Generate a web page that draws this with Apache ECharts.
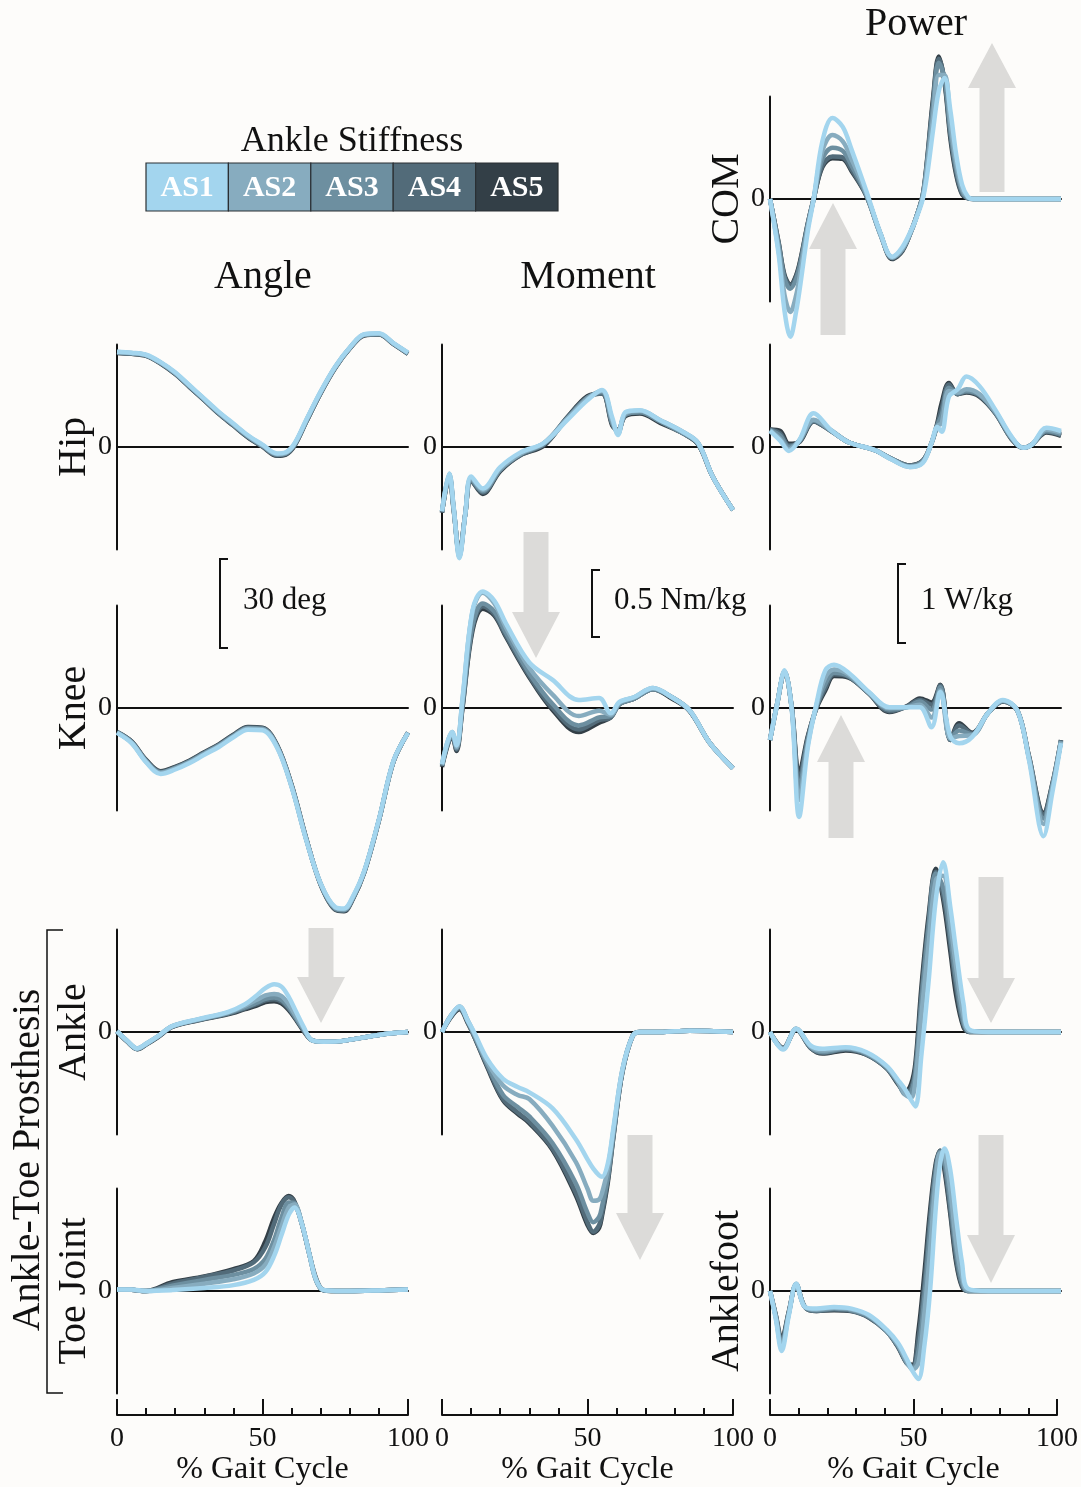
<!DOCTYPE html>
<html><head><meta charset="utf-8">
<script src="https://cdn.jsdelivr.net/npm/echarts@6/dist/echarts.min.js"></script>
<style>html,body{margin:0;padding:0;background:#fdfcfa}#c{width:1081px;height:1487px}</style>
</head><body><div id="c"></div>
<script>
// ---------- DATA ----------
const levels = ['AS1','AS2','AS3','AS4','AS5'];
const levelColors = ['#a3d5ee','#87acbf','#6d8fa0','#526b79','#333f47'];
const gaitTicks = [0, 50, 100];

// Joint angles (deg)
const hipAngleX = [0,5,10,15,20,25,30,35,40,45,50,55,58,61,65,70,75,80,85,90,95,100];
const hipAngleY = [
 [32.5,32.2,31.5,29,25.5,21,16.5,12,8,4,0.8,-2.2,-1.8,1.2,9.2,19,27.5,34,38.5,38.8,35.5,32.2],
 [32.4,32.1,31.4,28.8,25.3,20.8,16.3,11.8,7.8,3.8,0.6,-2.4,-2,1.0,9,18.8,27.3,33.9,38.4,38.7,35.4,32.1],
 [32.3,32,31.3,28.7,25.2,20.7,16.2,11.6,7.6,3.6,0.4,-2.6,-2.2,0.8,8.8,18.6,27.2,33.8,38.3,38.6,35.3,32],
 [32.2,31.9,31.2,28.6,25,20.5,16,11.4,7.4,3.4,0.2,-2.8,-2.4,0.6,8.6,18.5,27.1,33.7,38.2,38.5,35.2,31.9],
 [32.1,31.8,31.1,28.5,24.9,20.4,15.9,11.3,7.3,3.3,0.1,-3,-2.6,0.4,8.5,18.4,27,33.6,38.1,38.4,35.1,31.8]
];
const kneeAngleX = [0,5,10,15,20,25,30,35,40,45,50,55,60,65,70,75,78,81,85,90,95,100];
const kneeAngleY = [
 [-8.5,-12,-18.5,-22.5,-21,-18.8,-16,-13.3,-10,-7.4,-7.6,-13.5,-27,-45,-60,-68,-68.5,-64.5,-55.5,-38,-18,-8.5],
 [-8.4,-11.8,-18.3,-22.2,-20.7,-18.5,-15.7,-13,-9.7,-7.1,-7.3,-13.2,-26.8,-44.8,-60,-68.2,-68.7,-64.8,-55.7,-38.2,-18.2,-8.5],
 [-8.3,-11.7,-18.1,-22,-20.5,-18.3,-15.5,-12.8,-9.5,-6.9,-7.1,-13,-26.6,-44.7,-60.2,-68.5,-69,-65,-55.8,-38.3,-18.3,-8.4],
 [-8.2,-11.5,-17.9,-21.8,-20.3,-18.1,-15.3,-12.6,-9.3,-6.7,-6.9,-12.8,-26.4,-44.5,-60.3,-68.7,-69.2,-65.2,-56,-38.4,-18.3,-8.4],
 [-8.2,-11.4,-17.7,-21.6,-20.1,-17.9,-15.1,-12.4,-9.1,-6.5,-6.7,-12.6,-26.2,-44.4,-60.4,-68.9,-69.4,-65.4,-56.1,-38.5,-18.4,-8.4]
];
const ankleAngleX = [0,3.5,7,10,14,19,28,38,44,48,51,54,56.5,59,61.5,64,67,71,76,84,92,100];
const ankleAngleY = [
 [0.3,-3,-5.6,-4,-1.5,2,4.4,6.8,9.5,12.5,15,16.3,15.5,12,7,2,-2.8,-3.3,-3.2,-2,-0.7,0],
 [0.3,-3,-5.6,-4,-1.5,2,4.3,6.6,9,11,12.5,13,12.3,9.5,5.5,1.5,-2.8,-3.3,-3.2,-2,-0.7,0],
 [0.2,-3.2,-5.8,-4.2,-1.6,1.9,4.2,6.4,8.4,10,11.3,11.8,11,8.5,4.8,1,-2.8,-3.3,-3.2,-2,-0.7,0],
 [0.2,-3.2,-5.8,-4.2,-1.7,1.8,4.1,6.2,8.1,9.5,10.8,11.2,10.4,8,4.5,0.8,-2.8,-3.3,-3.2,-2,-0.7,0],
 [0.2,-3.3,-5.9,-4.3,-1.8,1.7,4,6,7.8,9,10.2,10.5,9.8,7.5,4.2,0.5,-2.8,-3.3,-3.2,-2,-0.7,0]
];
const toeAngleX = [0,5,10,19,30,40,47,51,54,56.5,59,61,63.5,66,68,70,72,80,90,100];
const toeAngleY = [
 [0.5,0.5,0,0.3,1,2,3.8,6.5,12,19,26,28.5,23,13,5,1,0.2,0,0.2,0.5],
 [0.5,0.4,0,1,2.5,4,6,9,15,22,28.5,29.5,23,13,4.8,0.9,0.2,0,0.2,0.5],
 [0.5,0.4,0,1.8,3.8,5.5,7.5,11,17.5,25,30.2,30,23,13,4.8,0.8,0.2,0,0.2,0.5],
 [0.5,0.4,0,2.5,4.8,7,9.8,15,23,29.5,32,30.2,23,13,5,0.8,0.1,0,0.2,0.5],
 [0.5,0.4,0,3,5,7.5,10.2,17,25,30,32.4,30.5,23,13,5.5,1,0.1,0,0.2,0.5]
];

// Joint moments (Nm/kg)
const hipMomentX = [0,2.5,4,6,8,10,14,20,27,35,43,50,55,58.5,60.5,63,68,75,83,88,93,100];
const hipMomentY = [
 [-0.48,-0.2,-0.45,-0.83,-0.5,-0.22,-0.31,-0.15,-0.04,0.03,0.2,0.35,0.425,0.22,0.09,0.26,0.275,0.2,0.11,0.03,-0.22,-0.47],
 [-0.48,-0.2,-0.45,-0.82,-0.5,-0.23,-0.32,-0.16,-0.05,0.03,0.21,0.36,0.42,0.2,0.1,0.25,0.27,0.2,0.11,0.03,-0.22,-0.47],
 [-0.48,-0.21,-0.46,-0.81,-0.5,-0.24,-0.33,-0.17,-0.05,0.02,0.21,0.37,0.41,0.18,0.11,0.24,0.26,0.19,0.1,0.03,-0.22,-0.47],
 [-0.49,-0.22,-0.46,-0.8,-0.5,-0.25,-0.34,-0.17,-0.06,0.02,0.22,0.37,0.4,0.17,0.12,0.24,0.26,0.19,0.1,0.02,-0.22,-0.47],
 [-0.49,-0.22,-0.47,-0.79,-0.5,-0.25,-0.35,-0.18,-0.06,0.01,0.22,0.38,0.4,0.16,0.13,0.23,0.25,0.18,0.1,0.02,-0.22,-0.47]
];
const kneeMomentX = [0,3.5,5,7,10.5,14,18,22,30,38,47,54,58,61,66,72.5,79,85,92,100];
const kneeMomentY = [
 [-0.42,-0.18,-0.28,0.06,0.73,0.87,0.8,0.63,0.34,0.21,0.06,0.075,-0.04,0.045,0.08,0.15,0.08,-0.015,-0.26,-0.45],
 [-0.42,-0.18,-0.29,0.05,0.72,0.86,0.78,0.6,0.3,0.1,-0.06,-0.02,-0.05,0.04,0.08,0.15,0.08,-0.015,-0.26,-0.45],
 [-0.43,-0.2,-0.3,0.02,0.62,0.78,0.72,0.56,0.26,0.03,-0.13,-0.07,-0.06,0.03,0.07,0.14,0.08,-0.015,-0.26,-0.45],
 [-0.43,-0.2,-0.31,0.0,0.6,0.76,0.7,0.54,0.24,0.0,-0.16,-0.09,-0.07,0.03,0.07,0.14,0.08,-0.02,-0.26,-0.45],
 [-0.44,-0.21,-0.32,-0.01,0.58,0.74,0.69,0.53,0.23,-0.015,-0.18,-0.11,-0.07,0.03,0.07,0.14,0.07,-0.02,-0.26,-0.45]
];
const ankleMomentX = [0,3,6,9,11,15.5,21,26,30,38,46,50,52,54,55,57,59,62,65.5,68,75,85,100];
const ankleMomentY = [
 [0,0.12,0.19,0.08,0,-0.2,-0.35,-0.41,-0.45,-0.57,-0.8,-0.95,-1.02,-1.07,-1.08,-0.98,-0.7,-0.28,-0.03,0,0,0.01,0],
 [0,0.12,0.19,0.08,-0.01,-0.22,-0.4,-0.47,-0.5,-0.7,-0.97,-1.17,-1.26,-1.25,-1.2,-1.02,-0.72,-0.28,-0.03,0,0,0.01,0],
 [0,0.12,0.18,0.07,-0.02,-0.24,-0.47,-0.56,-0.63,-0.83,-1.13,-1.35,-1.42,-1.38,-1.3,-1.08,-0.75,-0.29,-0.03,0,0,0.01,0],
 [0,0.11,0.18,0.07,-0.03,-0.25,-0.5,-0.6,-0.67,-0.87,-1.2,-1.42,-1.49,-1.44,-1.35,-1.1,-0.76,-0.3,-0.03,0,0,0.01,0],
 [0,0.11,0.17,0.06,-0.03,-0.26,-0.51,-0.61,-0.68,-0.88,-1.22,-1.44,-1.5,-1.46,-1.37,-1.12,-0.77,-0.3,-0.03,0,0,0.01,0]
];

// Powers (W/kg)
const comPowerX = [0,3,5,7,9,10.5,13,15,18,21.5,25,28,33,38,42,45.5,49,50.5,52.5,54,56,58,60,62,64,66,68,70,80,90,100];
const comPowerY = [
 [0,-0.7,-1.4,-1.72,-1.4,-1.05,-0.4,0,0.72,1.01,0.9,0.62,0.11,-0.43,-0.72,-0.6,-0.35,-0.22,0,0.3,0.85,1.35,1.51,1.1,0.55,0.18,0.03,0,0,0,0],
 [0,-0.65,-1.2,-1.41,-1.2,-0.9,-0.35,0,0.6,0.8,0.72,0.5,0.08,-0.45,-0.73,-0.62,-0.36,-0.2,0.02,0.4,1.0,1.55,1.55,0.95,0.45,0.13,0.02,0,0,0,0],
 [0,-0.58,-1.0,-1.12,-1.0,-0.8,-0.32,0,0.5,0.64,0.6,0.42,0.06,-0.45,-0.73,-0.63,-0.36,-0.2,0.04,0.45,1.15,1.7,1.5,0.85,0.38,0.1,0.01,0,0,0,0],
 [0,-0.56,-0.97,-1.08,-0.97,-0.77,-0.31,0,0.42,0.53,0.52,0.37,0.05,-0.44,-0.74,-0.64,-0.36,-0.2,0.05,0.48,1.2,1.75,1.47,0.8,0.33,0.07,0.01,0,0,0,0],
 [0,-0.55,-0.95,-1.07,-0.95,-0.75,-0.3,0,0.4,0.51,0.5,0.35,0.05,-0.44,-0.75,-0.65,-0.35,-0.2,0.05,0.5,1.25,1.78,1.45,0.75,0.3,0.06,0.01,0,0,0,0]
];
const hipPowerX = [0,3.5,6.5,10,15,21,27,36,42,48,52.5,55.5,57.5,59,61.5,64.5,67.5,72,77.5,83,87,90,95,100];
const hipPowerY = [
 [0.2,0.08,-0.05,0.08,0.42,0.21,0.06,-0.04,-0.16,-0.25,-0.2,0.05,0.25,0.19,0.63,0.72,0.88,0.76,0.46,0.13,-0.01,0.03,0.24,0.2],
 [0.21,0.1,-0.03,0.08,0.34,0.21,0.06,-0.04,-0.16,-0.25,-0.19,0.05,0.26,0.3,0.7,0.68,0.72,0.66,0.44,0.12,-0.01,0.03,0.22,0.18],
 [0.21,0.14,0,0.07,0.33,0.2,0.06,-0.04,-0.15,-0.24,-0.18,0.05,0.27,0.4,0.74,0.67,0.7,0.65,0.43,0.11,-0.01,0.03,0.2,0.16],
 [0.22,0.17,0.02,0.06,0.32,0.2,0.06,-0.04,-0.15,-0.23,-0.17,0.05,0.28,0.48,0.78,0.66,0.69,0.64,0.42,0.1,-0.01,0.03,0.19,0.15],
 [0.22,0.2,0.04,0.06,0.32,0.2,0.06,-0.04,-0.15,-0.23,-0.17,0.05,0.3,0.55,0.8,0.66,0.68,0.63,0.42,0.1,-0.01,0.03,0.18,0.14]
];
const kneePowerX = [0,2.5,5,7.5,10,13,16,19,22,27,34,41,47,51.5,55.5,58.5,62,65,69.5,75,80,85,89,94,97,100];
const kneePowerY = [
 [-0.4,0.06,0.47,-0.03,-1.36,-0.49,0.06,0.47,0.54,0.44,0.2,0.01,0.01,0.01,-0.24,0.2,-0.36,-0.44,-0.36,-0.06,0.1,-0.03,-0.65,-1.6,-1.06,-0.44],
 [-0.4,0.06,0.46,-0.02,-1.15,-0.45,0.04,0.38,0.48,0.42,0.19,0,0.01,0.04,-0.12,0.22,-0.38,-0.35,-0.34,-0.06,0.09,-0.03,-0.63,-1.45,-1.0,-0.42],
 [-0.4,0.06,0.46,-0.01,-1.0,-0.4,0.02,0.3,0.44,0.4,0.19,-0.02,0.01,0.08,-0.02,0.26,-0.39,-0.28,-0.33,-0.06,0.09,-0.03,-0.62,-1.38,-0.98,-0.41],
 [-0.4,0.06,0.45,0,-0.9,-0.37,0.01,0.25,0.42,0.39,0.18,-0.04,0.02,0.1,0.04,0.28,-0.4,-0.22,-0.32,-0.06,0.08,-0.03,-0.61,-1.33,-0.96,-0.4],
 [-0.4,0.06,0.45,0,-0.82,-0.35,0,0.22,0.4,0.38,0.18,-0.05,0.02,0.12,0.07,0.29,-0.4,-0.19,-0.31,-0.06,0.08,-0.03,-0.6,-1.31,-0.95,-0.4]
];
const anklePowerX = [0,4.5,9,14,18,26,33,40,44,46.5,48.5,50,52,54.5,57,59.5,62,64,66.5,68.5,75,100];
const anklePowerY = [
 [0,-0.22,0.04,-0.17,-0.21,-0.19,-0.25,-0.42,-0.6,-0.72,-0.85,-0.93,-0.3,0.63,1.66,2.12,1.55,1.0,0.35,0.03,0,0],
 [0,-0.21,0.04,-0.18,-0.23,-0.2,-0.26,-0.43,-0.62,-0.78,-0.82,-0.6,0.2,1.1,1.9,1.95,1.35,0.8,0.2,0.01,0,0],
 [0,-0.21,0.04,-0.19,-0.25,-0.21,-0.27,-0.44,-0.63,-0.78,-0.75,-0.5,0.35,1.3,1.98,1.8,1.2,0.65,0.12,0.01,0,0],
 [0,-0.2,0.03,-0.2,-0.26,-0.22,-0.28,-0.45,-0.64,-0.76,-0.7,-0.45,0.45,1.38,2.0,1.72,1.1,0.55,0.09,0,0,0],
 [0,-0.2,0.03,-0.2,-0.27,-0.23,-0.28,-0.45,-0.65,-0.75,-0.65,-0.38,0.55,1.45,2.04,1.66,1.0,0.45,0.06,0,0,0]
];
const anklefootPowerX = [0,2,4,6.5,9,12,16,22,28,34,40,44,47,49,51,53,55,57,58.5,60,62,64,66,68,75,100];
const anklefootPowerY = [
 [0,-0.35,-0.75,-0.3,0.09,-0.2,-0.22,-0.2,-0.22,-0.3,-0.48,-0.65,-0.85,-1.0,-1.1,-0.7,0,1.05,1.6,1.78,1.5,0.9,0.35,0.03,0,0],
 [0,-0.33,-0.7,-0.28,0.09,-0.2,-0.23,-0.21,-0.23,-0.31,-0.49,-0.67,-0.88,-0.98,-0.9,-0.3,0.5,1.4,1.72,1.7,1.25,0.6,0.18,0.01,0,0],
 [0,-0.32,-0.66,-0.27,0.08,-0.2,-0.24,-0.22,-0.24,-0.32,-0.5,-0.68,-0.9,-0.96,-0.75,-0.1,0.75,1.5,1.74,1.62,1.1,0.5,0.1,0,0,0],
 [0,-0.31,-0.63,-0.26,0.08,-0.2,-0.25,-0.23,-0.25,-0.33,-0.5,-0.7,-0.9,-0.94,-0.6,0.05,0.9,1.56,1.75,1.55,1.0,0.4,0.07,0,0,0],
 [0,-0.3,-0.6,-0.25,0.08,-0.2,-0.25,-0.24,-0.25,-0.33,-0.5,-0.7,-0.9,-0.92,-0.5,0.2,1.0,1.6,1.75,1.5,0.95,0.35,0.05,0,0,0]
];

// ---------- LAYOUT ----------
const SERIF = '"Liberation Serif", "Times New Roman", serif';
const INK = '#111';
const colLeft = [117, 442, 770];
const colWidth = 291;
const halfRange = {angle: 35, moment: 0.765, power: 1.28};
const panelSpecs = [
  {label:'COM', col:2, zero:199, X:comPowerX, Y:comPowerY, kind:'power'},
  {label:'Hip', col:0, zero:447, X:hipAngleX, Y:hipAngleY, kind:'angle'},
  {label:'', col:1, zero:447, X:hipMomentX, Y:hipMomentY, kind:'moment'},
  {label:'', col:2, zero:447, X:hipPowerX, Y:hipPowerY, kind:'power'},
  {label:'Knee', col:0, zero:708, X:kneeAngleX, Y:kneeAngleY, kind:'angle'},
  {label:'', col:1, zero:708, X:kneeMomentX, Y:kneeMomentY, kind:'moment'},
  {label:'', col:2, zero:708, X:kneePowerX, Y:kneePowerY, kind:'power'},
  {label:'Ankle', col:0, zero:1032, X:ankleAngleX, Y:ankleAngleY, kind:'angle'},
  {label:'', col:1, zero:1032, X:ankleMomentX, Y:ankleMomentY, kind:'moment'},
  {label:'', col:2, zero:1032, X:anklePowerX, Y:anklePowerY, kind:'power'},
  {label:'Toe Joint', col:0, zero:1291, X:toeAngleX, Y:toeAngleY, kind:'angle'},
  {label:'Anklefoot', col:2, zero:1291, X:anklefootPowerX, Y:anklefootPowerY, kind:'power'}
];

const grid = [], xAxis = [], yAxis = [], series = [];
panelSpecs.forEach((p, gi) => {
  const r = halfRange[p.kind];
  grid.push({left: colLeft[p.col], top: p.zero - 102.5, width: colWidth, height: 205});
  xAxis.push({gridIndex: gi, type: 'value', min: 0, max: 100,
    axisLine: {show: true, onZero: true, lineStyle: {color: INK, width: 2}},
    axisTick: {show: false}, axisLabel: {show: false}, splitLine: {show: false}});
  yAxis.push({gridIndex: gi, type: 'value', min: -r, max: r, interval: r,
    axisLine: {show: true, onZero: false, lineStyle: {color: INK, width: 2}},
    axisTick: {show: false}, splitLine: {show: false},
    axisLabel: {formatter: v => Math.abs(v) < 1e-9 ? '0' : '', fontFamily: SERIF, fontSize: 28, color: INK, margin: 5},
    name: p.label, nameLocation: 'middle', nameRotate: 90, nameGap: p.col === 2 ? 18 : 20,
    nameTextStyle: {fontFamily: SERIF, fontSize: 40, color: INK}});
  for (let k = 4; k >= 0; k--) {
    series.push({type: 'line', name: levels[k], xAxisIndex: gi, yAxisIndex: gi,
      data: p.X.map((x, i) => [x, p.Y[k][i]]),
      smooth: 0.35, showSymbol: false, clip: false, silent: true,
      lineStyle: {width: 4.5, color: levelColors[k]}});
  }
});
// bottom gait-cycle axes
for (let c = 0; c < 3; c++) {
  const gi = grid.length;
  grid.push({left: colLeft[c], top: 1395, width: colWidth, height: 20});
  xAxis.push({gridIndex: gi, type: 'value', min: 0, max: 100, interval: 50, position: 'bottom',
    axisLine: {show: true, onZero: false, lineStyle: {color: INK, width: 2}},
    axisTick: {show: true, inside: true, length: 16, lineStyle: {color: INK, width: 2}},
    minorTick: {show: true, splitNumber: 5, length: 7, lineStyle: {color: INK, width: 2}},
    axisLabel: {formatter: v => gaitTicks.includes(v) ? String(v) : '', fontFamily: SERIF, fontSize: 28, color: INK, margin: 10},
    splitLine: {show: false}, minorSplitLine: {show: false},
    name: '% Gait Cycle', nameLocation: 'middle', nameGap: 39,
    nameTextStyle: {fontFamily: SERIF, fontSize: 32, color: INK}});
  yAxis.push({gridIndex: gi, type: 'value', show: false, min: 0, max: 1});
}

// ---------- ANNOTATIONS ----------
const graphic = [];
function txt(text, x, y, size, align, extra) {
  return Object.assign({type: 'text', x, y, silent: true,
    style: {text, font: size + 'px ' + SERIF, fill: INK, align: align || 'center', verticalAlign: 'middle'}}, extra || {});
}
graphic.push(txt('Power', 916, 24, 40));
graphic.push(txt('Angle', 263, 277, 40));
graphic.push(txt('Moment', 588, 277, 40));
graphic.push(txt('Ankle Stiffness', 352, 142, 36));
// legend cells
const cellW = 82.4;
levels.forEach((lv, i) => {
  graphic.push({type: 'rect', silent: true, shape: {x: 146 + i * cellW, y: 163, width: cellW, height: 48},
    style: {fill: levelColors[i], stroke: '#2a2f33', lineWidth: 1.2}});
  graphic.push({type: 'text', silent: true, x: 146 + i * cellW + cellW / 2, y: 188,
    style: {text: lv, font: 'bold 30px ' + SERIF, fill: '#ffffff', align: 'center', verticalAlign: 'middle'}});
});
// scale bars
function bracket(x, y1, y2) {
  return {type: 'polyline', silent: true, shape: {points: [[x + 8, y1], [x, y1], [x, y2], [x + 8, y2]]},
    style: {stroke: INK, lineWidth: 2, fill: null}};
}
graphic.push(bracket(220, 559, 648));
graphic.push(txt('30 deg', 243, 601, 31, 'left'));
graphic.push(bracket(592, 570, 637));
graphic.push(txt('0.5 Nm/kg', 614, 601, 31, 'left'));
graphic.push(bracket(898, 564, 643));
graphic.push(txt('1 W/kg', 921, 601, 31, 'left'));
// Ankle-Toe Prosthesis bracket
graphic.push({type: 'polyline', silent: true, shape: {points: [[63, 930], [47, 930], [47, 1393], [63, 1393]]},
  style: {stroke: INK, lineWidth: 1.5, fill: null}});
graphic.push(txt('Ankle-Toe Prosthesis', 28, 1160, 40, 'center', {rotation: Math.PI / 2}));
// grey arrows
function arrow(cx, tipY, headY, endY) {
  const hw = 24, sw = 12.5;
  return {type: 'polygon', silent: true, z: 0,
    shape: {points: [[cx, tipY], [cx + hw, headY], [cx + sw, headY], [cx + sw, endY], [cx - sw, endY], [cx - sw, headY], [cx - hw, headY]]},
    style: {fill: '#dcdbd9'}};
}
graphic.push(arrow(992, 43, 88, 192));
graphic.push(arrow(833, 203, 249, 335));
graphic.push(arrow(536, 658, 612, 532));
graphic.push(arrow(841, 715, 762, 838));
graphic.push(arrow(321, 1023, 977, 928));
graphic.push(arrow(991, 1023, 978, 877));
graphic.push(arrow(640, 1260, 1213, 1135));
graphic.push(arrow(991, 1283, 1235, 1135));

const chart = echarts.init(document.getElementById('c'), null, {renderer: 'canvas'});
chart.setOption({
  backgroundColor: '#fdfcfa',
  animation: false,
  textStyle: {fontFamily: SERIF},
  grid, xAxis, yAxis, series, graphic
});
</script></body></html>
